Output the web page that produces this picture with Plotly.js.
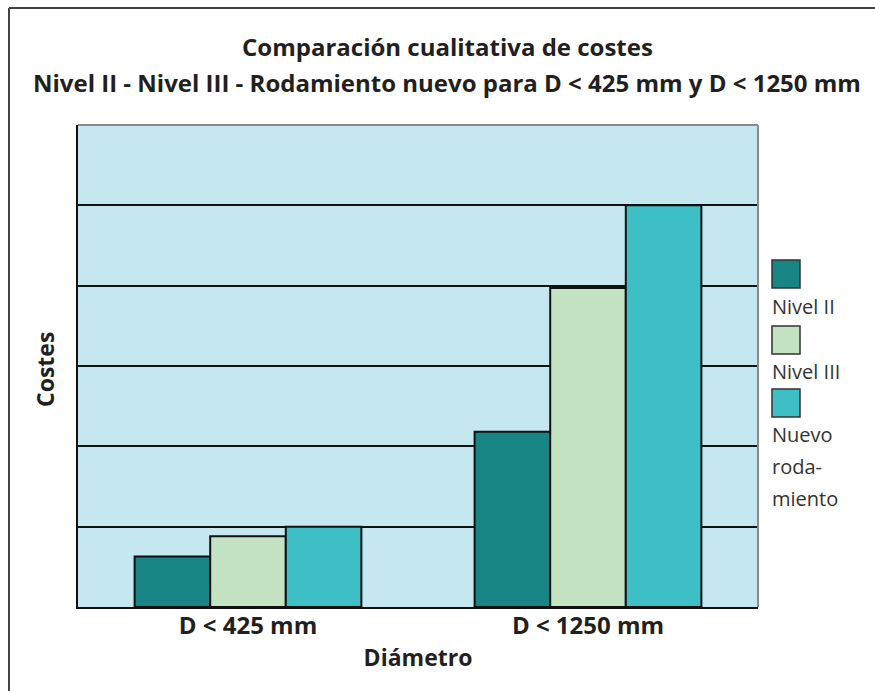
<!DOCTYPE html>
<html>
<head>
<meta charset="utf-8">
<script src="https://cdn.plot.ly/plotly-3.0.1.min.js"></script>
<style>html,body{margin:0;padding:0;background:#fff;}#chart{width:875px;height:691px;}</style>
</head>
<body>
<div id="chart"></div>
<script>
var categories = ['D < 425 mm', 'D < 1250 mm'];
var seriesNames = ['Nivel II', 'Nivel III', 'Nuevo rodamiento'];
var nivelII = [0.63, 2.18];
var nivelIII = [0.88, 3.97];
var nuevo = [1.0, 5.0];
var colors = ['#178583', '#c4e3c3', '#3dbfc5'];

var FONT = 'Open Sans, sans-serif';
var values = [nivelII, nivelIII, nuevo];
var traces = values.map(function (v, i) {
  return {
    type: 'bar', x: categories, y: v, name: seriesNames[i],
    marker: {color: colors[i], line: {color: '#111', width: 2}},
    hoverinfo: 'skip'
  };
});

var L = 78, T = 125, W = 680, H = 482;
function py(p) { return (T + H - p) / H; }
function px(p) { return (p - L) / W; }

var legendSquares = [[260, 288], [326, 354], [389, 417]];
var shapes = [
  {type: 'line', xref: 'paper', yref: 'paper', x0: 1, x1: 1, y0: 0, y1: 1, line: {color: '#8a8a8a', width: 2}},
  {type: 'line', xref: 'paper', yref: 'paper', x0: 0, x1: 1, y0: 1, y1: 1, line: {color: '#8a8a8a', width: 2}},
  {type: 'line', xref: 'paper', yref: 'paper', x0: px(9), x1: px(880), y0: py(8), y1: py(8), line: {color: '#444', width: 2}},
  {type: 'line', xref: 'paper', yref: 'paper', x0: px(9), x1: px(9), y0: py(8), y1: py(700), line: {color: '#444', width: 2}}
];
legendSquares.forEach(function (s, i) {
  shapes.push({type: 'rect', xref: 'paper', yref: 'paper', x0: px(772), x1: px(800), y0: py(s[1]), y1: py(s[0]),
    fillcolor: colors[i], line: {color: '#333', width: 1.5}});
});

var legendLines = [['Nivel II', 306], ['Nivel III', 371], ['Nuevo', 435], ['roda-', 467], ['miento', 498]];
var annotations = [
  {text: '<b>Comparación cualitativa de costes</b>', xref: 'paper', yref: 'paper', x: px(447), y: py(47),
    xanchor: 'center', yanchor: 'middle', showarrow: false, font: {family: FONT, size: 24, color: '#231f20'}},
  {text: '<b>Nivel II - Nivel III - Rodamiento nuevo para D < 425 mm y D < 1250 mm</b>', xref: 'paper', yref: 'paper', x: px(447), y: py(82),
    xanchor: 'center', yanchor: 'middle', showarrow: false, font: {family: FONT, size: 24, color: '#231f20'}},
  {text: '<b>Costes</b>', xref: 'paper', yref: 'paper', x: px(45), y: py(370), xanchor: 'center', yanchor: 'middle',
    textangle: -90, showarrow: false, font: {family: FONT, size: 23, color: '#231f20'}}
];
legendLines.forEach(function (l) {
  annotations.push({text: l[0], xref: 'paper', yref: 'paper', x: px(770), y: py(l[1]), xanchor: 'left', yanchor: 'middle',
    showarrow: false, font: {family: FONT, size: 20, color: '#333'}});
});

var layout = {
  width: 875, height: 691,
  margin: {l: L, r: 875 - L - W, t: T, b: 691 - T - H, pad: 0},
  paper_bgcolor: '#ffffff', plot_bgcolor: '#c5e7f0',
  showlegend: false,
  barmode: 'group', bargap: 0.333, bargroupgap: 0,
  font: {family: FONT, color: '#231f20'},
  xaxis: {
    showline: true, linecolor: '#111', linewidth: 2, ticks: '', showgrid: false, ticklabelstandoff: -4,
    tickfont: {family: FONT, size: 24, color: '#231f20', weight: 'bold'},
    title: {text: '<b>Diámetro</b>', font: {family: FONT, size: 23, color: '#231f20'}, standoff: 10}
  },
  yaxis: {
    range: [0, 6], dtick: 1, showline: true, linecolor: '#111', linewidth: 2,
    showgrid: true, gridcolor: '#111', gridwidth: 2, zeroline: false, showticklabels: false, ticks: ''
  },
  shapes: shapes,
  annotations: annotations
};

Plotly.newPlot('chart', traces, layout, {displayModeBar: false, staticPlot: true});
</script>
</body>
</html>
